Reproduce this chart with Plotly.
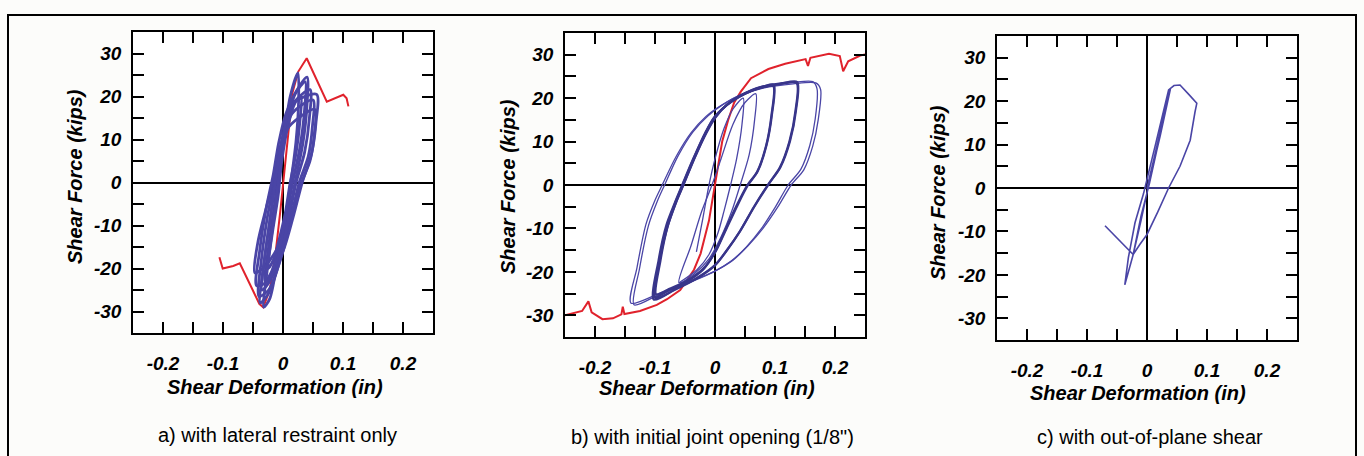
import plotly.graph_objects as go

# ---------------- data ----------------
X_TICKS = [-0.2, -0.15, -0.1, -0.05, 0, 0.05, 0.1, 0.15, 0.2]
X_LABELS = ["-0.2", "", "-0.1", "", "0", "", "0.1", "", "0.2"]
Y_TICKS = [-30, -25, -20, -15, -10, -5, 0, 5, 10, 15, 20, 25, 30]
Y_LABELS = ["-30", "", "-20", "", "-10", "", "0", "", "10", "", "20", "", "30"]

CAPTIONS = ["a) with lateral restraint only",
            "b) with initial joint opening (1/8\")",
            "c) with out-of-plane shear"]
X_TITLE = "Shear Deformation (in)"
Y_TITLE = "Shear Force (kips)"

# panel a: monotonic (red) and cyclic (blue) response
A_RED_X = [-0.106, -0.1005, -0.083, -0.072, -0.0395, -0.033, -0.022, -0.012, -0.004,
           0.004, 0.01, 0.016, 0.0255, 0.0395, 0.073, 0.1005, 0.106, 0.109]
A_RED_Y = [-17.4, -20, -19.4, -18.8, -28.2, -29, -25, -16, -6,
           4, 13, 21, 25.8, 28.9, 18.8, 20.4, 19.6, 17.7]

A_BLUE_X = [
    -0.025, -0.018, -0.008, -0.002, 0.008, 0.02, 0.03, 0.028, 0.022, 0.012, 0.004, -0.006, -0.016, -0.025, None,
    -0.03, -0.024, -0.013, -0.006, 0.004, 0.02, 0.037, 0.036, 0.028, 0.016, 0.006, -0.006, -0.02, -0.03, None,
    -0.035, -0.03, -0.02, -0.012, -0.003, 0.015, 0.045, 0.044, 0.036, 0.022, 0.01, -0.004, -0.022, -0.035, None,
    -0.04, -0.036, -0.026, -0.015, -0.005, 0.015, 0.05, 0.049, 0.042, 0.027, 0.012, -0.002, -0.024, -0.04, None,
    -0.047, -0.042, -0.03, -0.017, -0.006, 0.01, 0.053, 0.052, 0.045, 0.031, 0.015, 0.0, -0.03, -0.047, None,
    -0.032, -0.026, -0.016, -0.008, 0.0, 0.012, 0.025, 0.026, 0.022, 0.013, 0.003, -0.01, -0.022, -0.032, None,
    -0.044, -0.039, -0.028, -0.016, -0.006, 0.012, 0.056, 0.055, 0.048, 0.032, 0.017, 0.0, -0.026, -0.044, None,
    -0.038, -0.033, -0.022, -0.013, -0.004, 0.014, 0.04, 0.04, 0.033, 0.02, 0.008, -0.005, -0.025, -0.038,
]
A_BLUE_Y = [
    -20, -12, -3, 5, 13, 18.5, 20, 14, 7, 0, -7, -13, -18, -20, None,
    -23, -15, -4, 4, 12, 20.5, 23.4, 17, 8, 0, -8, -15, -21, -23, None,
    -25, -17, -7, 1, 9, 18, 21.6, 15, 7, 0, -8, -16, -23, -25, None,
    -26.5, -18, -8, 0, 8, 16, 19.2, 13, 6, 0, -9, -17, -25, -26.5, None,
    -21, -14, -7, 0, 7, 13, 17, 11, 5, 0, -7, -13, -19.5, -21, None,
    -29, -20, -9, 0, 9, 20, 25.5, 19, 10, 0, -9, -19, -27, -29, None,
    -24, -16, -6, 2, 10, 18, 20.5, 14, 7, 0, -8, -16, -23, -24, None,
    -28, -20, -9, 0, 8, 19, 24.5, 18, 9, 0, -9, -18, -26, -28,
]

# panel b
B_RED_X = [-0.2525, -0.2215, -0.211, -0.2056, -0.1876, -0.17, -0.156, -0.1537, -0.151, -0.125,
           -0.097, -0.08, -0.058, -0.035, -0.024, -0.017, -0.01, -0.005, 0.0, 0.004, 0.012,
           0.022, 0.032, 0.043, 0.06, 0.089, 0.117, 0.151, 0.155, 0.159, 0.19, 0.208, 0.2136,
           0.222, 0.242, 0.256]
B_RED_Y = [-30.1, -29, -26.8, -29.3, -30.9, -30.7, -29.8, -28, -29.7, -29,
           -27.6, -26.3, -24.2, -19.5, -15.8, -12, -8.2, -4, 0, 4, 10,
           15, 19, 21.5, 24.6, 26.7, 27.9, 29, 27.4, 29.3, 30.2, 29.7, 26.2,
           28.5, 29.8, 30.2]

B_THIN_X = [
    -0.031, -0.02, -0.01, 0.0, 0.015, 0.03, 0.047, 0.045, 0.036, 0.026, 0.015, 0.005, -0.01, -0.03, -0.06, None,
    -0.06, -0.04, -0.022, -0.005, 0.01, 0.03, 0.05, 0.068, 0.066, 0.057, 0.042, 0.028, 0.01, -0.01, -0.035, -0.06, None,
    -0.14, -0.13, -0.115, -0.1, -0.088, -0.065, -0.04, -0.015, 0.01, 0.04, 0.08, 0.13, 0.168, 0.176, 0.172, 0.163,
    0.148, 0.127, 0.105, 0.08, 0.055, 0.03, 0.0, -0.04, -0.09, -0.14, None,
    -0.135, -0.126, -0.111, -0.096, -0.084, -0.062, -0.037, -0.012, 0.013, 0.043, 0.083, 0.13, 0.163, 0.17, 0.167, 0.158,
    0.143, 0.122, 0.1, 0.076, 0.052, 0.027, -0.002, -0.042, -0.09, -0.135,
]
B_THIN_Y = [
    -15.4, -7.5, 0, 6, 13, 17.5, 20, 14, 6, 0, -6, -11, -16, -19.5, -22.5, None,
    -22.5, -14, -6, 0, 6, 14, 19, 21, 15, 7, 0, -6, -12, -17, -20.5, -22.5, None,
    -27.2, -19, -9, -3.5, 0, 6.5, 12, 15.8, 18.3, 20.5, 22.3, 23.3, 23.5, 22, 15, 9,
    3.5, 0, -5, -10, -14, -17.3, -19.8, -22.2, -24.8, -27.2, None,
    -27.6, -19.4, -9.4, -3.7, 0, 6.6, 12.2, 15.9, 18.5, 20.8, 22.6, 23.6, 23.8, 22.2, 15.2, 9.1,
    3.6, 0, -5.2, -10.3, -14.3, -17.5, -20, -22.4, -25, -27.6,
]

B_THICK_X = [
    -0.1, -0.093, -0.08, -0.065, -0.053, -0.035, -0.015, 0.0, 0.02, 0.05, 0.08, 0.097, 0.094, 0.085, 0.07, 0.054,
    0.035, 0.015, 0.0, -0.02, -0.05, -0.08, -0.1, None,
    -0.098, -0.091, -0.079, -0.064, -0.052, -0.034, -0.014, 0.001, 0.021, 0.051, 0.081, 0.098, 0.095, 0.086, 0.071, 0.055,
    0.036, 0.016, 0.001, -0.019, -0.049, -0.079, -0.098, None,
    -0.1, -0.092, -0.079, -0.066, -0.054, -0.036, -0.016, 0.0, 0.03, 0.07, 0.11, 0.136, 0.134, 0.124, 0.108, 0.088,
    0.065, 0.04, 0.02, 0.0, -0.03, -0.065, -0.1, None,
    -0.102, -0.094, -0.081, -0.067, -0.055, -0.037, -0.017, -0.001, 0.029, 0.069, 0.109, 0.137, 0.135, 0.125, 0.109, 0.089,
    0.066, 0.041, 0.021, 0.001, -0.029, -0.064, -0.102,
]
B_THICK_Y = [
    -25.8, -18, -10, -4, 0, 6, 12, 15.5, 18.5, 21, 22.5, 22.8, 16, 9, 3, 0,
    -5, -11, -15.5, -19.5, -22.5, -24.5, -25.8, None,
    -25.2, -17.5, -9.6, -3.7, 0.2, 6.2, 12.1, 15.6, 18.6, 21.2, 22.7, 23.1, 16.3, 9.2, 3.1, 0,
    -5.1, -11, -15.3, -19.2, -22.2, -24.1, -25.2, None,
    -26, -17, -9, -4, 0, 6, 12, 15.8, 19.5, 22.3, 23.4, 23.5, 17, 10, 4, 0,
    -5, -11, -15, -18.5, -21.5, -24, -26, None,
    -26.4, -17.3, -9.2, -4.1, -0.1, 5.8, 11.8, 15.6, 19.3, 22.1, 23.3, 23.7, 17.2, 10.1, 4.1, 0.1,
    -4.9, -10.8, -14.8, -18.3, -21.3, -23.8, -26.4,
]

# panel c
C_X = [0.036, 0.0, 0.012, 0.026, 0.038, 0.02, 0.004, -0.01, -0.023, -0.01, 0.004, 0.022, 0.039, 0.02,
       0.002, -0.012, -0.023, -0.037, -0.031, -0.02, -0.006, 0.015, 0.036, 0.045, 0.055, 0.07, 0.083,
       0.08, 0.072, 0.055, 0.036, 0.018, 0.0, -0.012, -0.023, -0.07]
C_Y = [0, 0, 7, 15, 22.5, 11, 1, -6.5, -15.3, -7.5, 1.5, 12, 22.8, 11.5,
       0, -8, -15.3, -22.3, -16, -8, -1.4, 10.5, 22.6, 23.6, 23.7, 21.5, 19.5,
       17.5, 11, 5, 0, -5.5, -10.7, -13, -15.3, -8.7]

# ---------------- styling ----------------
W, H = 1364, 456
RED = "#e0222c"
BLUE = "#4a45a6"
BLUE_DARK = "#38358a"
FONT = "Liberation Sans, Arial, sans-serif"
TICKFONT = dict(family=FONT, size=19, color="black", weight="bold", style="italic")
TITLEFONT = dict(family=FONT, size=20, color="black", weight="bold", style="italic")
CAPFONT = dict(family=FONT, size=20, color="black")

# plot boxes in pixels: (left, right, top, bottom)
BOXES = [(133, 433, 32, 333), (565, 865, 33, 337), (997, 1297, 36, 340)]


def fx(p):
    return p / W


def fy(p):
    return 1 - p / H


fig = go.Figure()

fig.add_trace(go.Scatter(x=A_RED_X, y=A_RED_Y, xaxis="x", yaxis="y", mode="lines",
                         line=dict(color=RED, width=2), hoverinfo="skip"))
fig.add_trace(go.Scatter(x=A_BLUE_X, y=A_BLUE_Y, xaxis="x", yaxis="y", mode="lines",
                         line=dict(color=BLUE, width=2.8, shape="spline", smoothing=0.8), hoverinfo="skip"))

fig.add_trace(go.Scatter(x=B_RED_X, y=B_RED_Y, xaxis="x2", yaxis="y2", mode="lines",
                         line=dict(color=RED, width=2), hoverinfo="skip"))
fig.add_trace(go.Scatter(x=B_THIN_X, y=B_THIN_Y, xaxis="x2", yaxis="y2", mode="lines",
                         line=dict(color=BLUE, width=1.3, shape="spline", smoothing=0.8), hoverinfo="skip"))
fig.add_trace(go.Scatter(x=B_THICK_X, y=B_THICK_Y, xaxis="x2", yaxis="y2", mode="lines",
                         line=dict(color=BLUE_DARK, width=2.2, shape="spline", smoothing=0.8), hoverinfo="skip"))

fig.add_trace(go.Scatter(x=C_X, y=C_Y, xaxis="x3", yaxis="y3", mode="lines",
                         line=dict(color=BLUE, width=1.6), hoverinfo="skip"))

common_x = dict(range=[-0.25, 0.25], tickmode="array", tickvals=X_TICKS, ticktext=X_LABELS,
                ticks="inside", ticklen=11, tickwidth=1.5, tickcolor="black",
                showline=True, linecolor="black", linewidth=1.5, mirror="ticks",
                showgrid=False, zeroline=True, zerolinecolor="black", zerolinewidth=1.5,
                tickfont=TICKFONT, ticklabelstandoff=12, fixedrange=True)
common_y = dict(range=[-35, 35], tickmode="array", tickvals=Y_TICKS, ticktext=Y_LABELS,
                ticks="inside", ticklen=11, tickwidth=1.5, tickcolor="black",
                showline=True, linecolor="black", linewidth=1.5, mirror="ticks",
                showgrid=False, zeroline=True, zerolinecolor="black", zerolinewidth=1.5,
                tickfont=TICKFONT, ticklabelstandoff=6, fixedrange=True)

layout_axes = {}
for i, (l, r, t, b) in enumerate(BOXES):
    sfx = "" if i == 0 else str(i + 1)
    layout_axes["xaxis" + sfx] = dict(common_x, domain=[fx(l), fx(r)], anchor="y" + sfx)
    layout_axes["yaxis" + sfx] = dict(common_y, domain=[fy(b), fy(t)], anchor="x" + sfx)

annotations = []
XT_POS = [(275, 387), (707, 388), (1138, 393)]
YT_POS = [(75, 177), (508, 187), (938, 193)]
CAP_POS = [(277, 435), (712, 437), (1150, 437)]
for i in range(3):
    annotations.append(dict(text=X_TITLE, x=fx(XT_POS[i][0]), y=fy(XT_POS[i][1]), xref="paper", yref="paper",
                            xanchor="center", yanchor="middle", showarrow=False, font=TITLEFONT))
    annotations.append(dict(text=Y_TITLE, x=fx(YT_POS[i][0]), y=fy(YT_POS[i][1]), xref="paper", yref="paper",
                            xanchor="center", yanchor="middle", showarrow=False, font=TITLEFONT, textangle=-90))
    annotations.append(dict(text=CAPTIONS[i], x=fx(CAP_POS[i][0]), y=fy(CAP_POS[i][1]), xref="paper", yref="paper",
                            xanchor="center", yanchor="middle", showarrow=False, font=CAPFONT))

shapes = [dict(type="rect", xref="paper", yref="paper", x0=fx(8), x1=fx(1356), y0=fy(470), y1=fy(15),
               line=dict(color="black", width=2), layer="below")]

fig.update_layout(width=W, height=H, margin=dict(l=0, r=0, t=0, b=0), showlegend=False,
                  paper_bgcolor="#fcfcfa", plot_bgcolor="white",
                  annotations=annotations, shapes=shapes, **layout_axes)

fig.write_html("out.html")
